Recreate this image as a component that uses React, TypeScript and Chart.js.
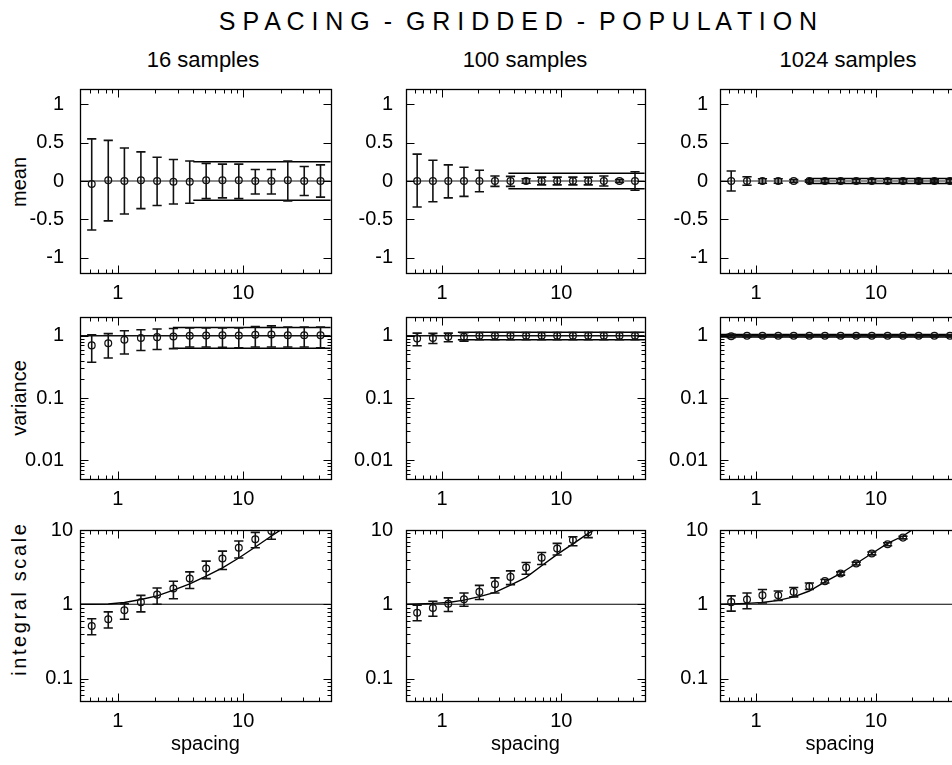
import React, { useEffect, useRef } from "react";
import { Chart, registerables } from "chart.js";

Chart.register(...registerables);

const FONT = '"Liberation Sans", Arial, Helvetica, sans-serif';

// ---------- text ----------
const TITLE = "S P A C I N G  -  G R I D D E D  -  P O P U L A T I O N";
const COLUMN_TITLES = ["16 samples", "100 samples", "1024 samples"];
const ROW_TITLES = ["mean", "variance", "integral scale"];
const X_LABEL = "spacing";

// ---------- axes ----------
const SPACING = [0.62, 0.84, 1.13, 1.53, 2.06, 2.78, 3.75, 5.07, 6.84, 9.23, 12.5, 16.8, 22.7, 30.7, 41.4];
const CURVE_X = [0.5, ...SPACING];
const X_RANGE = [0.5, 50];
const X_TICKS = [1, 10];
const X_MINOR = [0.6, 0.7, 0.8, 0.9, 2, 3, 4, 5, 6, 7, 8, 9, 20, 30, 40];

const MEAN_RANGE = [-1.2, 1.2];
const MEAN_TICKS = [-1, -0.5, 0, 0.5, 1];
const VAR_RANGE = [0.005, 2];
const VAR_TICKS = [0.01, 0.1, 1];
const VAR_MINOR = [0.006, 0.007, 0.008, 0.009, 0.02, 0.03, 0.04, 0.05, 0.06, 0.07, 0.08, 0.09, 0.2, 0.3, 0.4, 0.5, 0.6, 0.7, 0.8, 0.9];
const INT_RANGE = [0.05, 10];
const INT_TICKS = [0.1, 1, 10];
const INT_MINOR = [0.06, 0.07, 0.08, 0.09, 0.2, 0.3, 0.4, 0.5, 0.6, 0.7, 0.8, 0.9, 2, 3, 4, 5, 6, 7, 8, 9];

// ---------- mean row ----------
const MEAN_16 = [-0.04, 0.01, 0, 0.01, 0, -0.01, -0.01, 0.01, 0.01, 0.01, 0, 0, 0.01, 0, 0];
const MEAN_16_HI = [0.55, 0.53, 0.43, 0.38, 0.31, 0.28, 0.26, 0.23, 0.22, 0.22, 0.15, 0.15, 0.26, 0.19, 0.21];
const MEAN_16_LO = [-0.64, -0.52, -0.43, -0.36, -0.32, -0.3, -0.29, -0.23, -0.22, -0.23, -0.17, -0.17, -0.26, -0.19, -0.21];
const MEAN_100 = [0, 0, 0, 0, 0, 0, 0, 0, 0, 0, 0, 0, 0, 0, 0];
const MEAN_100_HI = [0.35, 0.27, 0.21, 0.18, 0.14, 0.065, 0.06, 0.03, 0.05, 0.05, 0.05, 0.05, 0.065, 0.02, 0.12];
const MEAN_100_LO = [-0.34, -0.27, -0.22, -0.2, -0.14, -0.07, -0.07, -0.03, -0.05, -0.05, -0.05, -0.05, -0.065, -0.02, -0.12];
const MEAN_1024 = [0, 0, 0, 0, 0, 0, 0, 0, 0, 0, 0, 0, 0, 0, 0];
const MEAN_1024_HI = [0.13, 0.055, 0.03, 0.03, 0.02, 0.015, 0.02, 0.025, 0.025, 0.025, 0.025, 0.02, 0.015, 0.015, 0.02];
const MEAN_1024_LO = [-0.13, -0.055, -0.03, -0.03, -0.02, -0.015, -0.02, -0.025, -0.025, -0.025, -0.025, -0.02, -0.015, -0.015, -0.02];
const MEAN_REF = 0;
const MEAN_BAND = [0.25, 0.1, 0.031];
const MEAN_BAND_START = [4.0, 3.6, 2.7];

// ---------- variance row ----------
const VAR_16 = [0.7, 0.76, 0.86, 0.92, 0.95, 0.975, 1.0, 1.01, 1.02, 1.01, 1.04, 1.05, 1.02, 1.02, 1.02];
const VAR_16_HI = [1.04, 1.08, 1.2, 1.25, 1.28, 1.31, 1.33, 1.34, 1.34, 1.34, 1.41, 1.44, 1.38, 1.38, 1.38];
const VAR_16_LO = [0.375, 0.44, 0.51, 0.58, 0.6, 0.62, 0.66, 0.66, 0.65, 0.64, 0.66, 0.66, 0.66, 0.66, 0.64];
const VAR_100 = [0.9, 0.92, 0.96, 0.96, 1, 1, 1, 1, 1, 1, 1, 1, 1, 1, 1];
const VAR_100_HI = [1.1, 1.09, 1.1, 1.12, 1.13, 1.13, 1.13, 1.13, 1.13, 1.13, 1.13, 1.13, 1.13, 1.13, 1.13];
const VAR_100_LO = [0.69, 0.75, 0.8, 0.82, 0.86, 0.86, 0.86, 0.86, 0.86, 0.86, 0.86, 0.86, 0.86, 0.86, 0.86];
const VAR_1024 = [0.98, 1, 1, 1, 1, 1, 1, 1, 1, 1, 1, 1, 1, 1, 1];
const VAR_1024_HI = [1.05, 1.04, 1.04, 1.04, 1.04, 1.04, 1.04, 1.04, 1.04, 1.04, 1.04, 1.04, 1.04, 1.04, 1.04];
const VAR_1024_LO = [0.93, 0.96, 0.96, 0.96, 0.96, 0.96, 0.96, 0.96, 0.96, 0.96, 0.96, 0.96, 0.96, 0.96, 0.96];
const VAR_REF = 1;
const VAR_BAND_HI = [1.36, 1.14, 1.044];
const VAR_BAND_LO = [0.63, 0.86, 0.956];
const VAR_BAND_START = [2.75, 1.36, 0.5];

// ---------- integral scale row ----------
const INT_16 = [0.51, 0.63, 0.83, 1.07, 1.35, 1.63, 2.22, 3.03, 4.14, 5.78, 7.5, 9.7, null, null, null];
const INT_16_HI = [0.64, 0.79, 1.02, 1.32, 1.66, 2.04, 2.73, 3.81, 5.2, 7.1, 9.3, 11.5, null, null, null];
const INT_16_LO = [0.39, 0.48, 0.63, 0.79, 1.0, 1.19, 1.63, 2.22, 2.94, 4.2, 5.78, 7.5, null, null, null];
const INT_100 = [0.77, 0.89, 1.02, 1.17, 1.47, 1.86, 2.34, 3.13, 4.23, 5.65, 7.34, 9.3, null, null, null];
const INT_100_HI = [0.97, 1.1, 1.22, 1.42, 1.8, 2.27, 2.82, 3.66, 4.98, 6.6, 8.1, 10.5, null, null, null];
const INT_100_LO = [0.6, 0.69, 0.8, 0.94, 1.16, 1.42, 1.84, 2.54, 3.44, 4.6, 6.13, 7.9, null, null, null];
const INT_1024 = [1.07, 1.16, 1.32, 1.32, 1.47, 1.75, 2.05, 2.6, 3.54, 4.83, 6.45, 7.9, null, null, null];
const INT_1024_HI = [1.3, 1.42, 1.58, 1.51, 1.68, 1.94, 2.16, 2.73, 3.7, 5.05, 6.75, 8.25, null, null, null];
const INT_1024_LO = [0.81, 0.87, 1.04, 1.13, 1.26, 1.58, 1.94, 2.47, 3.38, 4.62, 6.15, 7.6, null, null, null];
const INT_REF = 1;
// model curve, at CURVE_X
const INT_CURVE_16 = [1.0, 1.0, 1.01, 1.06, 1.16, 1.3, 1.55, 1.88, 2.4, 3.1, 4.2, 5.9, 8.3, 11.6, null, null];
const INT_CURVE_100 = [1.0, 1.01, 1.03, 1.06, 1.14, 1.27, 1.45, 1.81, 2.3, 3.3, 4.7, 6.5, 9.0, 12.0, null, null];
const INT_CURVE_1024 = [1.0, 1.01, 1.03, 1.06, 1.13, 1.26, 1.51, 2.0, 2.6, 3.54, 4.83, 6.6, 8.3, 11.5, null, null];

// ---------- layout ----------
const COL_LEFT = [80, 406, 720];
const COL_RIGHT = [331, 645, 960];
const ROW_TOP = [89, 317, 530];
const ROW_BOTTOM = [273, 479, 701];
const Y_AXIS_W = 80;
const PAD_T = 14;
const PAD_R = 6;
const X_AXIS_H = [34, 34, 64];
const Y_TICK_PAD = [[16, 16, 7], [13, 13, 13], [12, 12, 12]];
const COL_CENTER = [203, 525, 848];
const ROW_TITLE_CENTER = [181.5, 398, 600];
const ROW_TITLE_SPACING = [0, 0, 2.6];

type Num = number | null;
type Panel = {
  col: number;
  row: number;
  values: Num[];
  lo: Num[];
  hi: Num[];
  ref: number;
  refColor: string;
  refWidth: number;
  bandStart?: number;
  bandHi?: number;
  bandLo?: number;
  curve?: Num[];
};

const MEAN_SETS = [[MEAN_16, MEAN_16_LO, MEAN_16_HI], [MEAN_100, MEAN_100_LO, MEAN_100_HI], [MEAN_1024, MEAN_1024_LO, MEAN_1024_HI]];
const VAR_SETS = [[VAR_16, VAR_16_LO, VAR_16_HI], [VAR_100, VAR_100_LO, VAR_100_HI], [VAR_1024, VAR_1024_LO, VAR_1024_HI]];
const INT_SETS = [[INT_16, INT_16_LO, INT_16_HI], [INT_100, INT_100_LO, INT_100_HI], [INT_1024, INT_1024_LO, INT_1024_HI]];
const INT_CURVES = [INT_CURVE_16, INT_CURVE_100, INT_CURVE_1024];

const PANELS: Panel[] = [];
for (let c = 0; c < 3; c++) {
  PANELS.push({
    col: c, row: 0, values: MEAN_SETS[c][0], lo: MEAN_SETS[c][1], hi: MEAN_SETS[c][2],
    ref: MEAN_REF, refColor: "#666", refWidth: 1.3,
    bandStart: MEAN_BAND_START[c], bandHi: MEAN_REF + MEAN_BAND[c], bandLo: MEAN_REF - MEAN_BAND[c],
  });
  PANELS.push({
    col: c, row: 1, values: VAR_SETS[c][0], lo: VAR_SETS[c][1], hi: VAR_SETS[c][2],
    ref: VAR_REF, refColor: "#111", refWidth: 1.3,
    bandStart: VAR_BAND_START[c], bandHi: VAR_BAND_HI[c], bandLo: VAR_BAND_LO[c],
  });
  PANELS.push({
    col: c, row: 2, values: INT_SETS[c][0], lo: INT_SETS[c][1], hi: INT_SETS[c][2],
    ref: INT_REF, refColor: "#000", refWidth: 1.1,
    curve: INT_CURVES[c],
  });
}

const frameTicks = {
  id: "frameTicks",
  afterDraw(chart: any, _args: any, opts: any) {
    const { ctx, chartArea: a, scales } = chart;
    const xs = scales.x;
    const ys = scales.y;
    const L = Math.round(a.left) + 0.5;
    const R = Math.round(a.right) + 0.5;
    const T = Math.round(a.top) + 0.5;
    const B = Math.round(a.bottom) + 0.5;
    ctx.save();
    ctx.strokeStyle = "#000";
    ctx.lineWidth = 1.3;
    ctx.strokeRect(L, T, R - L, B - T);
    ctx.lineWidth = 1;
    const seg = (x1: number, y1: number, x2: number, y2: number) => {
      ctx.beginPath();
      ctx.moveTo(x1, y1);
      ctx.lineTo(x2, y2);
      ctx.stroke();
    };
    const xGroups: [number[], number][] = [[opts.xMajor || [], 8], [opts.xMinor || [], 4]];
    for (const [vals, len] of xGroups) {
      for (const v of vals) {
        const px = Math.round(xs.getPixelForValue(v)) + 0.5;
        if (px <= L + 1 || px >= R - 1) continue;
        seg(px, B, px, B - len);
        seg(px, T, px, T + len);
      }
    }
    const yGroups: [number[], number][] = [[opts.yMajor || [], 8], [opts.yMinor || [], 4]];
    for (const [vals, len] of yGroups) {
      for (const v of vals) {
        const py = Math.round(ys.getPixelForValue(v)) + 0.5;
        if (py <= T + 1 || py >= B - 1) continue;
        seg(L, py, L + len, py);
        seg(R, py, R - len, py);
      }
    }
    ctx.restore();
  },
};

function geometry(p: Panel) {
  const pw = COL_RIGHT[p.col] - COL_LEFT[p.col];
  const ph = ROW_BOTTOM[p.row] - ROW_TOP[p.row];
  return {
    left: COL_LEFT[p.col] - Y_AXIS_W,
    top: ROW_TOP[p.row] - PAD_T,
    w: Y_AXIS_W + pw + PAD_R,
    h: PAD_T + ph + X_AXIS_H[p.row],
  };
}

function buildConfig(p: Panel): any {
  const font = { family: FONT, size: 20 };
  const [xMin, xMax] = X_RANGE;
  const line = (data: any[], color: string, width: number, order: number) => ({
    data, borderColor: color, borderWidth: width, pointRadius: 0, pointHoverRadius: 0,
    fill: false, tension: 0, order, spanGaps: false,
  });
  const datasets: any[] = [];
  datasets.push(line([{ x: xMin, y: p.ref }, { x: xMax, y: p.ref }], p.refColor, p.refWidth, 6));
  if (p.bandStart !== undefined) {
    datasets.push(line([{ x: p.bandStart, y: p.bandHi }, { x: xMax, y: p.bandHi }], "#000", 1.5, 5));
    datasets.push(line([{ x: p.bandStart, y: p.bandLo }, { x: xMax, y: p.bandLo }], "#000", 1.5, 5));
  }
  if (p.curve) {
    datasets.push(line(CURVE_X.map((x, i) => ({ x, y: p.curve![i] })), "#000", 1.4, 4));
  }
  const stems: any[] = [];
  const caps: any[] = [];
  const circles: any[] = [];
  SPACING.forEach((x, i) => {
    if (p.lo[i] != null && p.hi[i] != null) {
      stems.push({ x, y: p.lo[i] }, { x, y: p.hi[i] }, { x, y: null });
      caps.push({ x, y: p.lo[i] }, { x, y: p.hi[i] });
    }
    if (p.values[i] != null) circles.push({ x, y: p.values[i] });
  });
  datasets.push(line(stems, "#111", 1.6, 3));
  datasets.push({
    data: caps, showLine: false, pointStyle: "line", pointRadius: 4.6, pointHoverRadius: 4.6,
    pointBorderColor: "#111", pointBorderWidth: 1.6, order: 2,
  });
  datasets.push({
    data: circles, showLine: false, pointStyle: "circle", pointRadius: 3.4, pointHoverRadius: 3.4,
    pointBorderColor: "#111", pointBackgroundColor: "rgba(0,0,0,0)", pointBorderWidth: 1.25, order: 1,
  });

  const yType = p.row === 0 ? "linear" : "logarithmic";
  const yRange = p.row === 0 ? MEAN_RANGE : p.row === 1 ? VAR_RANGE : INT_RANGE;
  const yTicks = p.row === 0 ? MEAN_TICKS : p.row === 1 ? VAR_TICKS : INT_TICKS;
  const yMinor = p.row === 0 ? [] : p.row === 1 ? VAR_MINOR : INT_MINOR;

  return {
    type: "line",
    data: { datasets },
    options: {
      animation: false,
      responsive: false,
      events: [],
      layout: { padding: { top: PAD_T, right: PAD_R, left: 0, bottom: 0 } },
      plugins: {
        legend: { display: false },
        tooltip: { enabled: false },
        title: { display: false },
        frameTicks: { xMajor: X_TICKS, xMinor: X_MINOR, yMajor: yTicks, yMinor },
      },
      scales: {
        x: {
          type: "logarithmic",
          position: "bottom",
          min: xMin,
          max: xMax,
          grid: { display: false, drawTicks: false },
          border: { display: false },
          ticks: {
            color: "#000", font, padding: 8, autoSkip: false, maxRotation: 0, minRotation: 0,
            callback: (v: any) => String(Number(v)),
          },
          title: {
            display: p.row === 2, text: X_LABEL, color: "#000", font,
            padding: { top: 0, bottom: 9 },
          },
          afterBuildTicks: (s: any) => { s.ticks = X_TICKS.map((v) => ({ value: v })); },
          afterFit: (s: any) => {
            s.height = X_AXIS_H[p.row];
            s.paddingLeft = 0; s.paddingRight = 0; s.paddingTop = 0; s.paddingBottom = 0;
          },
        },
        y: {
          type: yType,
          position: "left",
          min: yRange[0],
          max: yRange[1],
          grid: { display: false, drawTicks: false },
          border: { display: false },
          ticks: {
            color: "#000", font, padding: Y_TICK_PAD[p.col][p.row], autoSkip: false,
            callback: (v: any) => String(Number(v)),
          },
          title: { display: false },
          afterBuildTicks: (s: any) => { s.ticks = yTicks.map((v) => ({ value: v })); },
          afterFit: (s: any) => {
            s.width = Y_AXIS_W;
            s.paddingLeft = 0; s.paddingRight = 0; s.paddingTop = 0; s.paddingBottom = 0;
          },
        },
      },
    },
    plugins: [frameTicks],
  };
}

function PanelChart({ p }: { p: Panel }) {
  const ref = useRef<HTMLCanvasElement>(null);
  const g = geometry(p);
  useEffect(() => {
    if (!ref.current) return;
    const chart = new Chart(ref.current, buildConfig(p));
    return () => chart.destroy();
  }, []);
  return (
    <canvas
      ref={ref}
      width={g.w}
      height={g.h}
      style={{ position: "absolute", left: g.left, top: g.top, width: g.w, height: g.h }}
    />
  );
}

export default function App() {
  return (
    <div
      style={{
        position: "fixed", left: 0, top: 0, width: 952, height: 765, overflow: "hidden",
        background: "#fff", fontFamily: FONT, color: "#000",
      }}
    >
      <div
        style={{
          position: "absolute", left: 0, top: 6, width: 1036,
          textAlign: "center", fontSize: 25, lineHeight: "30px", whiteSpace: "pre",
        }}
      >
        {TITLE}
      </div>
      {COLUMN_TITLES.map((t, i) => (
        <div
          key={t}
          style={{
            position: "absolute", left: COL_CENTER[i] - 100, top: 47, width: 200,
            textAlign: "center", fontSize: 22, lineHeight: "26px", whiteSpace: "nowrap",
          }}
        >
          {t}
        </div>
      ))}
      {ROW_TITLES.map((t, i) => (
        <div
          key={t}
          style={{
            position: "absolute", left: 19 - 100, top: ROW_TITLE_CENTER[i] - 12, width: 200, height: 24,
            boxSizing: "border-box", paddingLeft: ROW_TITLE_SPACING[i],
            textAlign: "center", fontSize: 20, lineHeight: "24px", whiteSpace: "nowrap",
            letterSpacing: `${ROW_TITLE_SPACING[i]}px`, transform: "rotate(-90deg)",
          }}
        >
          {t}
        </div>
      ))}
      {PANELS.map((p) => (
        <PanelChart key={`${p.row}-${p.col}`} p={p} />
      ))}
    </div>
  );
}
